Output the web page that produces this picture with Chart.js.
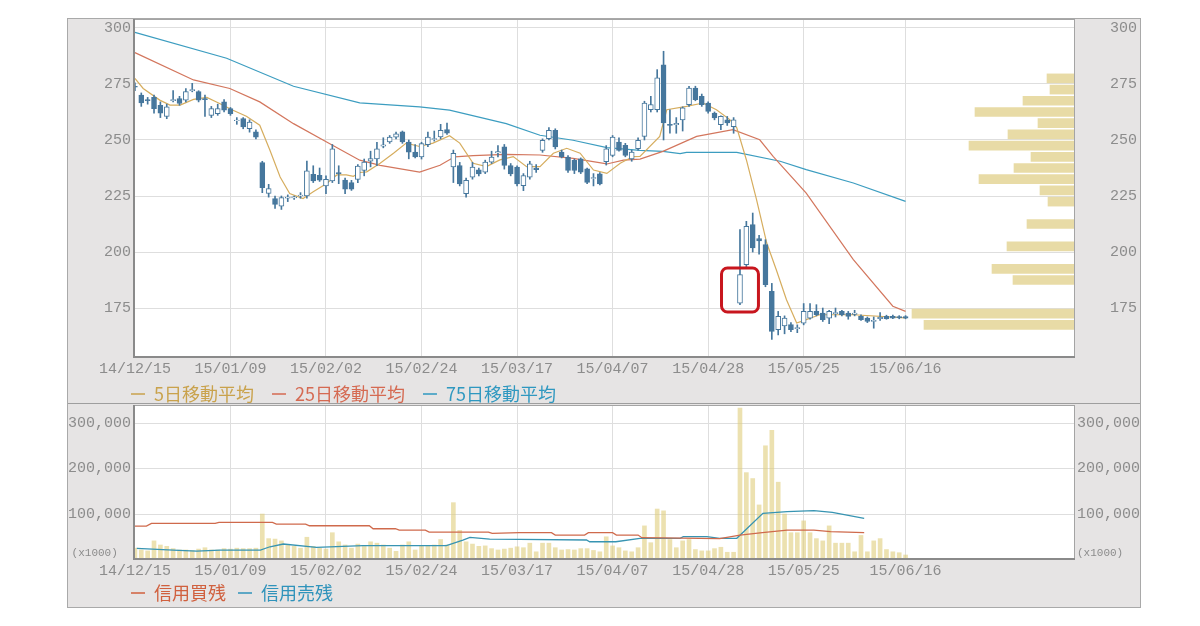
<!DOCTYPE html>
<html lang="ja">
<head>
<meta charset="utf-8">
<title>株価チャート</title>
<script src="https://cdn.jsdelivr.net/npm/chart.js@4/dist/chart.umd.min.js"></script>
<style>
  html, body { margin: 0; background: #fff; }
  #frame { position: absolute; left: 67px; top: 18px; width: 1072px; height: 588px;
           background: #e6e4e4; border: 1px solid #a9a9a9; }
  #priceBox { position: absolute; left: 0; top: 0; width: 1072px; height: 384px; }
  #sep { position: absolute; left: 0; top: 384px; width: 1072px; height: 1px; background: #9e9e9e; }
  #volBox { position: absolute; left: 0; top: 385px; width: 1072px; height: 203px; }
</style>
</head>
<body>
<div id="frame">
  <div id="priceBox"><canvas id="price"></canvas></div>
  <div id="sep"></div>
  <div id="volBox"><canvas id="vol"></canvas></div>
</div>
<script>
// x axis: trading-day index, labelled every 15 days
const dateLabels = ['14/12/15', '15/01/09', '15/02/02', '15/02/24', '15/03/17', '15/04/07', '15/04/28', '15/05/25', '15/06/16'];
const dateIdx = [0, 15, 30, 45, 60, 75, 90, 105, 121];
const priceTicks = [175, 200, 225, 250, 275, 300];
const volTicks = [100, 200, 300];   // x1000 shown as 100,000 ...

// daily candles (yen)
const open = [274,270,268,269,265.5,260.5,267.6,268.5,267.8,272,
  271.6,268.5,261,261.8,267,264,258.6,259.6,255,253.6,
  239.9,226.2,223.8,220.5,224,224.2,225,225,234.7,234.2,
  229.5,231.7,235.5,232.1,231,232.4,236.4,240.5,241.6,247.2,
  249.1,251.3,253.6,249.1,244.6,242.4,247.9,250.2,251.4,254.6,
  238,238.6,226,233.4,236.7,235.6,240.1,244.2,246.9,238.6,
  237.9,229.6,233.4,237.5,245.4,250.6,254.3,244.6,242.4,240.9,
  241.6,237.1,232.8,234.9,240.3,243.1,249.1,247.6,241.6,246.1,
  251.6,263.5,263.5,283.6,257,256.8,259,265.8,273.2,269.5,
  266.5,262,256.8,259,256,177.2,194.4,212.2,206,203.3,
  182.5,165.3,167,167.6,165.8,168.3,170.5,173.5,172.8,170.5,
  172.5,173.5,172.8,172.2,171.3,170.5,169,170.3,171.3,171.3,171.2,171.2];
const high = [275.5,271,269,270,267,266,272,269.5,273,275.3,
  272,270,265,266,268,264.5,260,260,259,254.5,
  240.5,230.2,225,225,225.5,225,226.5,240.6,238.5,237.5,
  234,248,238.5,233,232,239,241.5,245,249,251,
  252,253.5,254,250,248,249,253.5,254,257,257.5,
  245.5,240,233,240,237.5,241,245,247.5,248,239.5,
  238.5,235,240.5,239,250.5,255.5,255,245.5,243,241.5,
  242,237.5,235,235.5,247.5,252,251,248.5,245.5,251,
  267.3,269.5,281.4,289.6,263.5,260,264.8,274,274,270.5,
  267,262.5,260.8,260.5,260,210,213.7,217.4,207.5,205.5,
  186,173.5,171.5,168.5,167.5,177,177,176.5,175,174,
  175,174,173.5,174,172,171,171,173,171.8,171.8,171.6,171.6];
const low = [272,265,266,262,260,259.5,267,265.5,267,271.5,
  267,260.5,260,261,262.5,261,257,255,253.5,250.5,
  226.5,224.5,219.5,219,222.5,223.5,224,224,231,231.5,
  226,231,230.5,226,227.5,231,234,238,238.5,246.5,
  248.5,250.5,248.5,241.6,242,241.5,247,249.5,250.5,252.5,
  231,229.5,224.5,232.5,234,235,239.5,242.5,237,234,
  229.5,227.4,232.5,235.5,244.5,250,246,242,235.5,235,
  235,230.5,229.5,230,238.8,242.5,245,242.5,240.5,245.5,
  250,262.5,262.5,250,253,253,254,265,267.5,265,
  262,259,254.6,256.5,253,176.5,193.5,200,199,184.5,
  161,163,163.5,164.5,164,167.5,170,171.5,169,168,
  171,171.5,170,171.5,169.5,168.5,166,169.5,170,170.3,170.2,170.2];
const close = [273.6,266.5,267.5,264,262,264.8,268,266.3,271.6,272.5,
  267.8,268,264,264,263.3,261.8,258.9,255.8,258,251.3,
  228.7,228.3,221.3,224.3,224.5,224.6,225.4,236.2,231.7,232.1,
  232.4,246.1,235,228,228,238.4,240.1,241.7,246.1,247.8,
  251.3,252.8,249.1,244.6,242.4,248.4,251.3,250.6,254.3,253,
  244,230.4,232,237.9,234.9,240.1,242.4,244.8,238.6,234.9,
  230.4,234.1,239.4,236.8,249.9,254.3,246.9,242.4,236.4,236.4,
  235.6,231.1,233.2,230.4,246,251.3,245.4,243.1,244.6,249.9,
  266.5,265.8,277.7,257.6,256.5,257.4,264.3,273.2,268,265.8,
  262.8,259.8,260.6,257.6,259,189.9,211.5,201.8,205,185.4,
  164.6,171.3,170.5,165.3,166.3,173.5,173.5,172,169.8,173.5,
  173,172,171.3,172.8,169.8,169,169.5,170.8,170.3,170.5,170.6,170.5];

// moving averages: [day index, yen]
const ma5 = [[0,277.5],[1.3,273],[3.9,267.8],[5.5,265.6],[7.1,265.6],[9.2,268.1],[11.3,269],[13.3,266.3],
  [15.4,263.3],[17.5,260.6],[19.6,256.6],[21.2,245.4],[22.8,233.5],[24.3,226.1],[26.4,223.9],[28,226.9],
  [30.1,230.6],[31.7,234.4],[33.2,234.4],[34.3,233.8],[35.3,235.5],[36.4,235.8],[38.5,239.6],[40.6,244.1],
  [42.6,248.6],[44.7,247.1],[46.8,248.6],[49.4,251.9],[51,248.6],[53.1,239.6],[55.2,238.1],[57.3,241.1],
  [59.4,242.6],[61.5,238.1],[63.6,238.1],[65.7,244.1],[67.8,246.3],[69.9,244.1],[72,236.6],[74.1,235.1],
  [76.2,239.6],[78.2,242.6],[79.3,242.7],[82.4,251.6],[83.5,263.5],[86.6,265],[89.2,266.5],[91.3,263.5],
  [93.4,259.1],[94.5,255.4],[96,241.2],[97.6,223.4],[99.2,204],[100.7,192.1],[102.3,178.7],[103.9,168.3],
  [105.4,169.8],[107.5,172],[112.8,172],[121,170.6]];
const ma25 = [[0,289],[9.2,276.8],[14.9,273],[19.6,267],[24.9,257.3],[30.1,249.1],[35.3,241],[38.5,238.7],
  [44.7,235.7],[47.9,238.7],[50.2,242.5],[53.1,243],[58.3,243.6],[63.6,243.3],[68.8,241.8],[74.1,239.3],
  [76.7,241],[79.3,241.5],[82.9,244.9],[88.2,251.6],[93.9,254.6],[98.1,250.1],[100.2,242.7],[105.4,226.3],
  [112.8,196.6],[119,175.8],[121,173.5]];
const ma75 = [[0,298],[14.4,286.5],[24.9,274],[35.3,266.6],[44.7,264.8],[49.4,263.3],[58.3,257.3],[63.6,252.1],
  [68.8,249.9],[74.1,246.6],[79.3,245.4],[82.9,244.9],[85.6,243.9],[86.6,244.5],[94.5,244.5],[101.3,240.5],
  [105.4,236.8],[112.8,230.8],[121,222.6]];

// volume by price (5-yen bands, relative size)
const profilePrice = [277.5,272.5,267.5,262.5,257.5,252.5,247.5,242.5,237.5,232.5,227.5,222.5,212.5,202.5,192.5,187.5,172.5,167.5];
const profileVol = [28,25,52,100,37,67,106,44,61,96,35,27,48,68,83,62,163,151];

// daily volume (x1000, in thousands of axis units)
const volume = [25,21,19,41,32,29,24,21,21,20,23,26,21,21,24,23,25,24,24,25,
  100,46,45,41,32,29,25,49,29,25,23,59,39,32,25,34,29,39,36,32,
  25,18,32,39,21,29,31,32,44,32,125,64,39,34,29,30,24,21,23,25,
  28,26,36,17,36,36,26,21,22,21,24,24,20,17,50,30,26,19,17,26,
  74,37,111,107,44,26,41,44,22,19,19,24,27,16,16,333,191,178,120,250,
  284,170,100,59,59,85,59,46,41,74,36,36,36,17,53,17,41,46,22,17,15,10];

// margin balances: [day index, value]
const marginBuy = [[0,73.6],[1.8,73.6],[2.6,79.5],[12.6,79.5],[13.2,81.7],[21.6,81.7],[22.2,78],[26.8,78],
  [27.4,74.3],[36.8,74.3],[37.4,67.7],[40.9,67.7],[41.5,64.8],[45.6,64.8],[46.2,60.4],[55.5,60.4],[56.1,57.6],
  [60.4,59],[65.4,59],[66,53.8],[70.6,53.8],[71.2,59],[75,59],[75.6,53.8],[79,53.8],[79.6,48],[91.8,46],
  [95,53.8],[98.5,59],[102.4,64.8],[106.6,64.8],[109.2,61.2],[114.5,59]];
const marginSell = [[0.3,24.5],[6,20.9],[9.7,18.7],[13.4,20.9],[19.7,20.9],[21.2,28.1],[23.3,34.1],[28.5,26.8],
  [35.8,30.4],[48.9,30.4],[51.5,42.9],[52.6,48.8],[55.7,45],[60.4,44.3],[70.9,42.9],[71.4,39.1],[75.5,39.1],
  [79.3,46.6],[85.6,46.6],[86.1,50.2],[89.8,50.2],[91.8,46.6],[94.5,46.6],[98.6,101.5],[102.4,105.1],
  [106.6,107.3],[109.5,103.7],[114.5,90.5]];

// ---- styling ----
const col = {
  candle: '#46779d', ma5: '#d6ad5e', ma25: '#d3765d', ma75: '#3c9dc0',
  profile: '#e8dba6', vol: 'rgba(224,206,128,0.62)', buy: '#cf6a4c', sell: '#3794b2',
  grid: '#dedede', tick: '#8c8c8c'
};
const monoFont = '"Liberation Mono", "DejaVu Sans Mono", monospace';
const tickFont = { family: monoFont, size: 15 };
const legendFont = { family: '"Noto Sans CJK JP", sans-serif', size: 18 };
const xMin = -0.3, xMax = 147.6;
const unitTick = 15;

const toXY = pts => pts.map(([x, y]) => ({ x, y }));

function dateAxis() {
  return {
    type: 'linear', min: xMin, max: xMax, offset: false,
    grid: { color: col.grid, drawTicks: false, offset: false },
    border: { display: false },
    afterBuildTicks: s => { s.ticks = dateIdx.map(v => ({ value: v })); },
    afterFit: s => { s.height = 20; s.paddingLeft = 0; s.paddingRight = 0; },
    ticks: { autoSkip: false, maxRotation: 0, padding: 2, font: tickFont, color: col.tick,
             callback: (v, i) => dateLabels[i] }
  };
}

function priceAxis(pos) {
  return {
    type: 'linear', position: pos, min: 152.7, max: 304, offset: false,
    grid: { display: pos === 'left', color: col.grid, drawTicks: false, offset: false },
    border: { display: false },
    afterBuildTicks: s => { s.ticks = priceTicks.map(v => ({ value: v })); },
    afterFit: s => { s.width = 65; s.paddingTop = 0; s.paddingBottom = 0; },
    ticks: { padding: pos === 'left' ? 2 : 35, font: tickFont, color: col.tick }
  };
}

function volAxis(pos) {
  return {
    type: 'linear', position: pos, min: -1, max: 339.6, offset: false,
    grid: { display: pos === 'left', drawTicks: false, offset: false,
            color: c => c.tick && c.tick.value === unitTick ? 'rgba(0,0,0,0)' : col.grid },
    border: { display: false },
    afterBuildTicks: s => { s.ticks = [unitTick, ...volTicks].map(v => ({ value: v })); },
    afterFit: s => { s.width = 65; s.paddingTop = 0; s.paddingBottom = 0; },
    ticks: {
      padding: 2, color: col.tick,
      font: c => c.tick && c.tick.value === unitTick ? { family: monoFont, size: 11 } : tickFont,
      callback: v => v === unitTick ? (pos === 'left' ? '(x1000)  ' : '(x1000)') : (v * 1000).toLocaleString('en-US')
    }
  };
}

function legendOpts(items, pad, maxH) {
  return {
    position: 'bottom', align: 'start', maxHeight: maxH,
    labels: {
      usePointStyle: true, pointStyleWidth: 14, padding: pad, font: legendFont,
      generateLabels: () => items.map(it => ({
        text: it.text, fillStyle: it.color, strokeStyle: it.color, fontColor: it.color,
        lineWidth: 1.5, pointStyle: 'line', hidden: false
      }))
    }
  };
}

// white plot area with darker left / bottom edge
const plotFrame = {
  id: 'plotFrame',
  beforeDraw(chart) {
    const { ctx, chartArea: a } = chart;
    ctx.save();
    ctx.fillStyle = '#fff';
    ctx.fillRect(a.left, a.top, a.right - a.left, a.bottom - a.top);
    ctx.restore();
  },
  afterDraw(chart) {
    const { ctx, chartArea: a } = chart;
    ctx.save();
    ctx.strokeStyle = '#a4a4a4';
    ctx.lineWidth = 1;
    ctx.strokeRect(a.left + 0.5, a.top + 0.5, a.right - a.left - 1, a.bottom - a.top - 1);
    ctx.strokeStyle = '#8a8a8a';
    ctx.lineWidth = 2;
    ctx.beginPath();
    ctx.moveTo(a.left + 1, a.top);
    ctx.lineTo(a.left + 1, a.bottom - 1);
    ctx.lineTo(a.right, a.bottom - 1);
    ctx.stroke();
    ctx.restore();
  }
};

// put the legend right under the date labels, starting at the plot's left edge
const legendSpot = {
  id: 'legendSpot',
  afterLayout(chart, args, o) {
    const lg = chart.legend;
    if (!lg) return;
    lg.left = chart.chartArea.left + o.dx - o.pad;
    lg.top = chart.chartArea.bottom + o.dy - o.pad - o.size / 2;
  }
};

// red rounded box around one candle
const markBox = {
  id: 'markBox',
  afterDatasetsDraw(chart, args, o) {
    if (!o.on) return;
    const { ctx, scales: { x, y } } = chart;
    const l = x.getPixelForValue(o.at - o.half), r = x.getPixelForValue(o.at + o.half);
    const t = y.getPixelForValue(o.hi), b = y.getPixelForValue(o.lo);
    ctx.save();
    ctx.strokeStyle = '#c8161e';
    ctx.lineWidth = 3;
    ctx.beginPath();
    ctx.roundRect(l, t, r - l, b - t, 6);
    ctx.stroke();
    ctx.restore();
  }
};

Chart.defaults.animation = false;

new Chart(document.getElementById('price'), {
  type: 'bar',
  data: {
    datasets: [
      { label: '5日移動平均', type: 'line', data: toXY(ma5), borderColor: col.ma5, borderWidth: 1.2,
        pointRadius: 0, order: 3, xAxisID: 'x', yAxisID: 'y' },
      { label: '25日移動平均', type: 'line', data: toXY(ma25), borderColor: col.ma25, borderWidth: 1.2,
        pointRadius: 0, order: 3, xAxisID: 'x', yAxisID: 'y' },
      { label: '75日移動平均', type: 'line', data: toXY(ma75), borderColor: col.ma75, borderWidth: 1.2,
        pointRadius: 0, order: 3, xAxisID: 'x', yAxisID: 'y' },
      { label: 'ヒゲ', data: open.map((o, i) => ({ x: i, y: [low[i], high[i]] })),
        backgroundColor: col.candle, barThickness: 1, grouped: false, order: 2, xAxisID: 'x', yAxisID: 'y' },
      { label: '実体', data: open.map((o, i) => ({ x: i, y: [Math.min(o, close[i]), Math.max(o, close[i])] })),
        backgroundColor: open.map((o, i) => close[i] >= o ? '#ffffff' : col.candle),
        borderColor: col.candle, borderWidth: 1, borderSkipped: false, barThickness: 5,
        grouped: false, order: 1, xAxisID: 'x', yAxisID: 'y' },
      { label: '価格帯別出来高', indexAxis: 'y', data: profilePrice.map((p, i) => ({ x: profileVol[i], y: p })),
        backgroundColor: col.profile, barThickness: 9, grouped: false, order: 5, xAxisID: 'xp', yAxisID: 'y' }
    ]
  },
  options: {
    responsive: true, maintainAspectRatio: false,
    layout: { padding: 0, autoPadding: false },
    events: [],
    plugins: {
      tooltip: { enabled: false },
      legend: legendOpts([
        { text: '5日移動平均', color: '#c9a24c' },
        { text: '25日移動平均', color: '#d56a52' },
        { text: '75日移動平均', color: '#2f98c0' }
      ], 18, 25),
      legendSpot: { dx: -2, dy: 36, pad: 18, size: 18 },
      markBox: { on: true, at: 95, half: 2.9, lo: 173.2, hi: 192.9 }
    },
    scales: {
      x: dateAxis(),
      xp: { type: 'linear', axis: 'x', display: false, reverse: true, min: 0, max: 942,
            offset: false, grid: { offset: false } },
      y: priceAxis('left'),
      y2: priceAxis('right')
    }
  },
  plugins: [plotFrame, legendSpot, markBox]
});

new Chart(document.getElementById('vol'), {
  type: 'bar',
  data: {
    datasets: [
      { label: '信用買残', type: 'line', data: toXY(marginBuy), borderColor: col.buy, borderWidth: 1.3,
        pointRadius: 0, order: 1, xAxisID: 'x', yAxisID: 'y' },
      { label: '信用売残', type: 'line', data: toXY(marginSell), borderColor: col.sell, borderWidth: 1.3,
        pointRadius: 0, order: 1, xAxisID: 'x', yAxisID: 'y' },
      { label: '出来高', data: volume.map((v, i) => ({ x: i, y: v })), backgroundColor: col.vol,
        barThickness: 4, grouped: false, order: 2, xAxisID: 'x', yAxisID: 'y' }
    ]
  },
  options: {
    responsive: true, maintainAspectRatio: false,
    layout: { padding: { top: 1 }, autoPadding: false },
    events: [],
    plugins: {
      tooltip: { enabled: false },
      legend: legendOpts([
        { text: '信用買残', color: '#d0603e' },
        { text: '信用売残', color: '#2f93bb' }
      ], 12, 27),
      legendSpot: { dx: -2, dy: 33, pad: 12, size: 18 },
      markBox: { on: false }
    },
    scales: {
      x: dateAxis(),
      y: volAxis('left'),
      y2: volAxis('right')
    }
  },
  plugins: [plotFrame, legendSpot]
});
</script>
</body>
</html>
